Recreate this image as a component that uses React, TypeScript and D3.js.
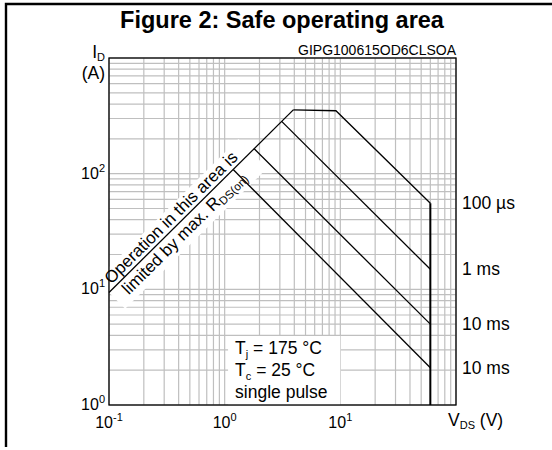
import * as d3 from "d3";

const W = 552;
const H = 450;
const margin = { top: 58, right: 96, bottom: 45, left: 109 };

// axis decades (labels are 10^e)
const xExps = [-1, 0, 1];
const yExps = [0, 1, 2];

// curves: [VDS (V), ID (A)]
const rdsLimit: [number, number][] = [[0.1, 9.4], [3.92, 356]];
const pulse100us: [number, number][] = [[3.92, 356], [9.16, 350], [60, 55.5]];
const pulse1ms: [number, number][] = [[3.11, 283], [60, 14.9]];
const pulse10ms: [number, number][] = [[1.79, 165], [60, 5.0]];
const pulseDC: [number, number][] = [[1.19, 108], [60, 2.1]];
const vdsMax = 60;

const curves = [pulse100us, pulse1ms, pulse10ms, pulseDC];
const curveLabels = ["100 µs", "1 ms", "10 ms", "10 ms"];

const font = "Arial, 'Liberation Sans', sans-serif";

export default function App() {
  const x = d3.scaleLog().domain([0.1, 100]).range([margin.left, W - margin.right]);
  const y = d3.scaleLog().domain([1, 1000]).range([H - margin.bottom, margin.top]);
  const [x0, x1] = x.range();
  const [y0, y1] = y.range();

  const line = d3
    .line<[number, number]>()
    .x((d) => x(d[0]))
    .y((d) => y(d[1]));

  const xGrid = x.ticks();
  const yGrid = y.ticks();

  // rotation of the RDS(on) text along the limit line
  const sx = x(rdsLimit[0][0]);
  const sy = y(rdsLimit[0][1]);
  const ang =
    (Math.atan2(y(rdsLimit[1][1]) - sy, x(rdsLimit[1][0]) - sx) * 180) / Math.PI;

  // conditions box corners
  const bx = x(1.07);
  const by = y(3.95);

  return (
    <svg
      width={W}
      height={H}
      style={{ position: "absolute", left: 0, top: 0, background: "#fff" }}
      fontFamily={font}
    >
      <defs>
        <clipPath id="plot-clip">
          <rect x={x0} y={y1} width={x1 - x0} height={y0 - y1} />
        </clipPath>
      </defs>

      {/* figure frame (left + top only) */}
      <path d={`M6,447V4H${W}`} fill="none" stroke="#000" strokeWidth={2.4} />

      <text x={282} y={28} textAnchor="middle" fontSize={23.5} fontWeight="bold">
        Figure 2: Safe operating area
      </text>
      <text x={x1} y={55} textAnchor="end" fontSize={14}>
        GIPG100615OD6CLSOA
      </text>

      {/* grid */}
      <g stroke="#bfbfbf" strokeWidth={1.2}>
        {xGrid.map((v, i) => (
          <line key={"gx" + i} x1={x(v)} x2={x(v)} y1={y1} y2={y0} />
        ))}
        {yGrid.map((v, i) => (
          <line key={"gy" + i} x1={x0} x2={x1} y1={y(v)} y2={y(v)} />
        ))}
      </g>

      {/* white backing behind the rotated RDS(on) note */}
      <g clipPath="url(#plot-clip)">
        <rect
          transform={`translate(${sx},${sy}) rotate(${ang})`}
          x={0}
          y={-18}
          width={200}
          height={41}
          fill="#fff"
        />
      </g>

      {/* conditions box */}
      <rect x={bx} y={by} width={x(10) - bx} height={y(1) - by} fill="#fff" />
      <g fontSize={17.5}>
        <text x={bx + 7} y={by + 18}>
          T<tspan fontSize={11} dy={4}>j</tspan>
          <tspan dy={-4}> = 175 °C</tspan>
        </text>
        <text x={bx + 7} y={by + 40}>
          T<tspan fontSize={11} dy={4}>c</tspan>
          <tspan dy={-4}> = 25 °C</tspan>
        </text>
        <text x={bx + 7} y={by + 62}>
          single pulse
        </text>
      </g>

      {/* plot frame */}
      <rect x={x0} y={y1} width={x1 - x0} height={y0 - y1} fill="none" stroke="#000" strokeWidth={1.3} />

      {/* curves */}
      <g fill="none" stroke="#000" strokeWidth={1.3}>
        <path d={line(rdsLimit) ?? ""} />
        {curves.map((c, i) => (
          <path key={"c" + i} d={line(c) ?? ""} />
        ))}
      </g>
      <line
        x1={x(vdsMax)}
        x2={x(vdsMax)}
        y1={y(pulse100us[pulse100us.length - 1][1])}
        y2={y0}
        stroke="#000"
        strokeWidth={2}
      />

      {/* curve labels */}
      <g fontSize={17.5}>
        {curves.map((c, i) => (
          <text key={"l" + i} x={x1 + 6} y={y(c[c.length - 1][1]) + 6}>
            {curveLabels[i]}
          </text>
        ))}
      </g>

      {/* RDS(on) note */}
      <g transform={`translate(${sx},${sy}) rotate(${ang})`} fontSize={17}>
        <text x={7} y={-4}>Operation in this area is</text>
        <text x={12} y={16}>
          limited by max. R<tspan fontSize={11.5} dy={3}>DS(on)</tspan>
        </text>
      </g>

      {/* tick labels */}
      <g fontSize={16}>
        {xExps.map((e) => (
          <text key={"xt" + e} x={x(Math.pow(10, e))} y={y0 + 23} textAnchor="middle">
            10<tspan fontSize={11} dy={-7}>{e}</tspan>
          </text>
        ))}
        {yExps.map((e) => (
          <text key={"yt" + e} x={x0 - 4} y={y(Math.pow(10, e)) + 5} textAnchor="end">
            10<tspan fontSize={11} dy={-7}>{e}</tspan>
          </text>
        ))}
      </g>

      {/* axis titles */}
      <g fontSize={17.5}>
        <text x={x0 - 4} y={y1} textAnchor="end">
          I<tspan fontSize={11} dy={3}>D</tspan>
        </text>
        <text x={x0 - 4} y={y1 + 21} textAnchor="end">
          (A)
        </text>
        <text x={x1 - 8} y={y0 + 21}>
          V<tspan fontSize={11} dy={3}>DS</tspan>
          <tspan dy={-3}> (V)</tspan>
        </text>
      </g>
    </svg>
  );
}
